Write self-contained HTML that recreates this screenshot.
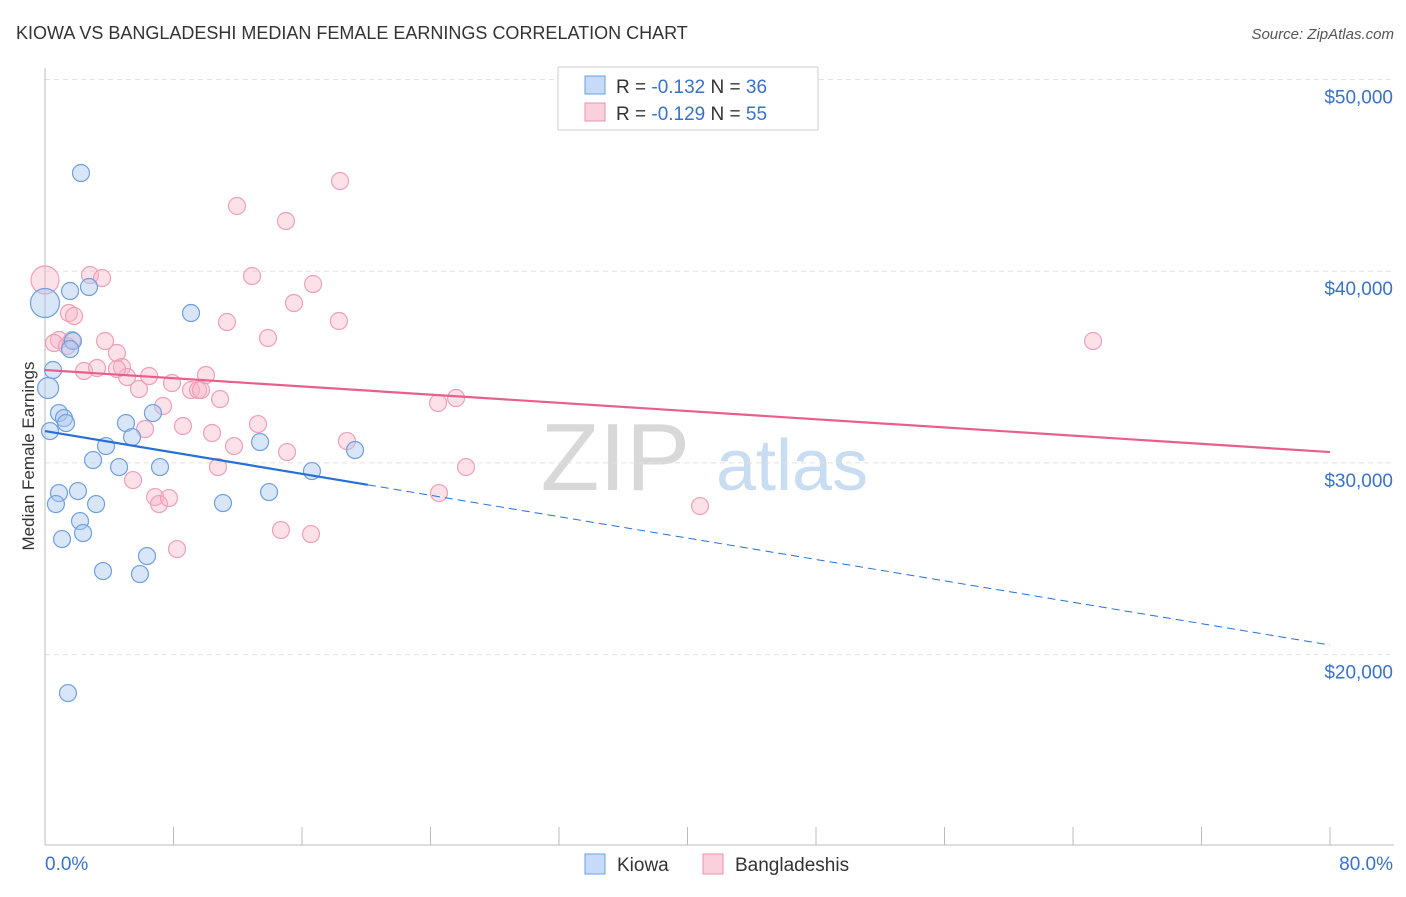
<!DOCTYPE html>
<html><head><meta charset="utf-8"><style>
body{margin:0;background:#fff;font-family:"Liberation Sans",sans-serif}
svg text{font-family:"Liberation Sans",sans-serif}
</style></head><body>
<svg id="chart" width="1406" height="892" viewBox="0 0 1406 892">
<text x="16" y="39" font-size="18" fill="#333">KIOWA VS BANGLADESHI MEDIAN FEMALE EARNINGS CORRELATION CHART</text>
<text x="1394" y="39" font-size="15" fill="#555" text-anchor="end" font-style="italic">Source: ZipAtlas.com</text>
<text x="690" y="490" font-size="96" text-anchor="end" fill="#d8d8d8" font-family="Liberation Serif">ZIP</text>
<text x="716" y="490" font-size="72" fill="#c8dcf2">atlas</text>
<g id="grid"></g>
<g id="axes"></g>
<g id="marks"></g>
<text transform="translate(34,456) rotate(-90)" font-size="17" fill="#333" text-anchor="middle">Median Female Earnings</text>
<g>
<rect x="558" y="67" width="260" height="63" fill="#fff" stroke="#ccc"/>
<rect x="585" y="76" width="20" height="18" fill="#c5dbf7" stroke="#6a9fe0"/>
<text x="616" y="93" font-size="19" fill="#333">R = <tspan fill="#3a72c8">-0.132</tspan>   N = <tspan fill="#3a72c8">36</tspan></text>
<rect x="585" y="103" width="20" height="18" fill="#fbd0dd" stroke="#ec8fab"/>
<text x="616" y="120" font-size="19" fill="#333">R = <tspan fill="#3a72c8">-0.129</tspan>   N = <tspan fill="#3a72c8">55</tspan></text>
</g>
<g>
<rect x="585" y="854" width="20" height="20" fill="#c5dbf7" stroke="#6a9fe0"/>
<text x="617" y="871" font-size="19" fill="#333">Kiowa</text>
<rect x="703" y="854" width="20" height="20" fill="#fbd0dd" stroke="#ec8fab"/>
<text x="735" y="871" font-size="19" fill="#333">Bangladeshis</text>
</g>
</svg>
<script>
const kiowaX=[2.24,1.56,2.74,0,9.09,1.74,1.56,0.5,0.19,0.87,1.18,1.31,0.31,5.04,6.72,5.42,3.80,2.99,4.61,7.16,13.39,19.30,16.62,0.87,2.05,0.68,3.18,11.08,13.95,2.18,2.37,1.06,6.35,3.61,5.91,1.43];
const kiowaY=[45122,38966,39175,38340,37818,36358,35940,34845,33906,32601,32340,32079,31662,32079,32601,31349,30879,30149,29784,29784,31088,30671,29575,28427,28532,27854,27854,27906,28480,26967,26341,26028,25141,24358,24202,17994];
const kiowaR=[8,8,8,14,8,8,8,8,10,8,8,8,8,8,8,8,8,8,8,8,8,8,8,8,8,8,8,8,8,8,8,8,8,8,8,8];
const bangX=[0,2.80,3.55,0.87,1.49,1.81,0.56,1.37,1.68,2.43,3.24,3.74,4.48,4.79,5.11,5.85,4.48,6.48,7.91,9.09,9.53,9.71,10.02,10.90,7.35,6.23,8.59,10.40,11.77,5.48,6.85,7.10,7.72,8.22,10.77,11.95,12.89,15.00,11.33,13.88,15.50,16.69,18.30,18.37,13.26,15.07,14.69,16.56,18.80,24.47,25.59,26.21,24.53,40.78,65.25];
const bangY=[39540,39801,39645,36410,37818,37662,36253,36097,36410,34793,34949,36358,35732,35002,34480,33854,34897,34532,34167,33802,33802,33802,34584,33332,32967,31767,31923,31558,30879,29106,28219,27854,28167,25506,29784,43401,39749,42618,37349,36515,38340,39332,37401,44705,32027,30566,26497,26289,31140,33124,33384,29784,28427,27749,36358];
const kiowaTrend=[31660,20498];
const bangTrend=[34845,30566];
const kiowaSolidEnd=20.1;
const yTicks=[20000,30000,40000,50000];
const yTickLabels=["$20,000","$30,000","$40,000","$50,000"];
const xTicks=[0,8,16,24,32,40,48,56,64,72,80];

const NS="http://www.w3.org/2000/svg";
const X0=45,X1=1330,YB=845;
function sx(v){return X0+(v/80)*(X1-X0);}
function sy(v){return 79.5+(50000-v)/10000*191.7;}
function mk(tag,attrs,parent){const e=document.createElementNS(NS,tag);for(const k in attrs)e.setAttribute(k,attrs[k]);parent.appendChild(e);return e;}
const grid=document.getElementById('grid'),axes=document.getElementById('axes'),marks=document.getElementById('marks');
yTicks.forEach((t,i)=>{
  const l=mk('line',{x1:X0,x2:1394,y1:sy(t),y2:sy(t),stroke:'#e2e2e2','stroke-dasharray':'5,4'},grid);
  
  
  const tx=mk('text',{x:1393,y:sy(t)+24,'font-size':19,fill:'#3a72c8','text-anchor':'end'},axes);
  tx.textContent=yTickLabels[i];
  
  
});
const ya=mk('line',{x1:X0,x2:X0,y1:68,y2:YB,stroke:'#bbb'},axes);


const xa=mk('line',{x1:X0,x2:1394,y1:YB,y2:YB,stroke:'#bbb'},axes);


xTicks.forEach(t=>{
  const l=mk('line',{x1:sx(t),x2:sx(t),y1:YB,y2:827,stroke:'#bbb'},axes);
  
  
});
const xl0=mk('text',{x:45,y:870,'font-size':19,fill:'#3a72c8'},axes);xl0.textContent='0.0%';


const xl1=mk('text',{x:1393,y:870,'font-size':19,fill:'#3a72c8','text-anchor':'end'},axes);xl1.textContent='80.0%';



bangX.forEach((v,i)=>{
  const c=mk('circle',{cx:sx(v),cy:sy(bangY[i]),r:i===0?14:8.5,fill:'rgba(248,180,200,0.4)',stroke:'#eea0b8','stroke-width':1.2},marks);
  
  
});
kiowaX.forEach((v,i)=>{
  const c=mk('circle',{cx:sx(v),cy:sy(kiowaY[i]),r:kiowaR[i]+0.5,fill:'rgba(170,200,240,0.45)',stroke:'#6e9fdf','stroke-width':1.2},marks);
  
  
});
function ty(tr,x){return tr[0]+(tr[1]-tr[0])*x/80;}
const bl=mk('line',{x1:sx(0),y1:sy(ty(bangTrend,0)),x2:sx(80),y2:sy(ty(bangTrend,80)),stroke:'#e8608a','stroke-width':2.2},marks);


const kl=mk('line',{x1:sx(0),y1:sy(ty(kiowaTrend,0)),x2:sx(kiowaSolidEnd),y2:sy(ty(kiowaTrend,kiowaSolidEnd)),stroke:'#2a6fd6','stroke-width':2.2},marks);


const kd=mk('line',{x1:sx(kiowaSolidEnd),y1:sy(ty(kiowaTrend,kiowaSolidEnd)),x2:sx(80),y2:sy(ty(kiowaTrend,80)),stroke:'#2a6fd6','stroke-width':1,'stroke-dasharray':'8,5'},marks);


</script>
</body></html>
